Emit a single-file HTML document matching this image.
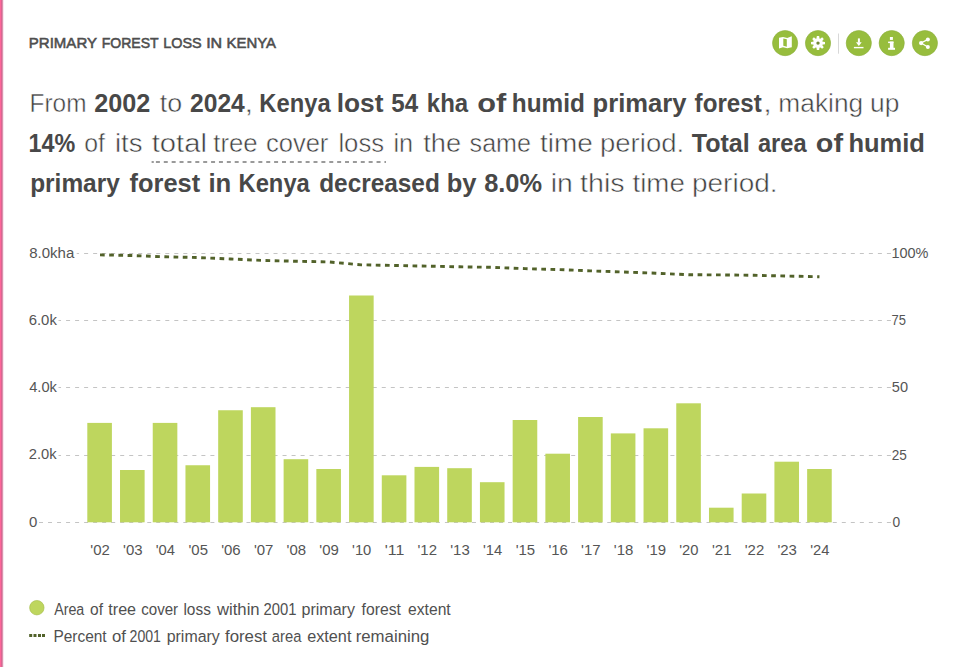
<!DOCTYPE html>
<html><head><meta charset="utf-8">
<style>
html,body{margin:0;padding:0;background:#fff;}
body{width:960px;height:667px;position:relative;overflow:hidden;font-family:"Liberation Sans",sans-serif;}
svg{position:absolute;left:0;top:0;}
text{font-family:"Liberation Sans",sans-serif;}
.t{fill:#4e4e4e;stroke:#4e4e4e;stroke-width:0.55px;} .pb{fill:#484848;} .pr{fill:#404040;stroke:#fff;stroke-width:0.5px;} .a{fill:#555;} .l{fill:#505050;}
</style></head><body>
<svg width="960" height="667" viewBox="0 0 960 667">
<rect x="0" y="0" width="1" height="667" fill="#fd6699"/><rect x="1" y="0" width="1" height="667" fill="#da6592"/><rect x="2" y="0" width="1" height="667" fill="#db92ad"/><rect x="3" y="0" width="0.6" height="667" fill="#f3d8e4"/>
<g stroke="#c4c4c4" stroke-width="1" stroke-dasharray="4 5.02">
<line x1="30" y1="253.5" x2="891" y2="253.5"/><line x1="30" y1="320.5" x2="891" y2="320.5"/><line x1="30" y1="387.5" x2="891" y2="387.5"/><line x1="30" y1="455.5" x2="891" y2="455.5"/><line x1="30" y1="522.5" x2="891" y2="522.5"/>
</g>
<g fill="#fff">
<rect x="28" y="244" width="48.7" height="18"/><rect x="28" y="311" width="30.5" height="18"/><rect x="28" y="378" width="30.5" height="18"/><rect x="28" y="445" width="30.5" height="18"/><rect x="28" y="513" width="10.5" height="18"/>
</g>
<path d="M151.6 162h2.2M155.90 162h4.00M163.78 162h4.00M171.66 162h4.00M179.54 162h4.00M187.42 162h4.00M195.30 162h4.00M203.18 162h4.00M211.06 162h4.00M218.94 162h4.00M226.82 162h4.00M234.70 162h4.00M242.58 162h4.00M250.46 162h4.00M258.34 162h4.00M266.22 162h4.00M274.10 162h4.00M281.98 162h4.00M289.86 162h4.00M297.74 162h4.00M305.62 162h4.00M313.50 162h4.00M321.38 162h4.00M329.26 162h4.00M337.14 162h4.00M345.02 162h4.00M352.90 162h4.00M360.78 162h4.00M368.66 162h4.00M376.54 162h4.00M384.42 162h1.58" stroke="#7a7a7a" stroke-width="1.5" fill="none"/>
<g fill="#bed65e"><rect x="87.30" y="422.90" width="24.6" height="99.40"/><rect x="120.02" y="470.00" width="24.6" height="52.30"/><rect x="152.74" y="422.90" width="24.6" height="99.40"/><rect x="185.46" y="465.25" width="24.6" height="57.05"/><rect x="218.18" y="410.25" width="24.6" height="112.05"/><rect x="250.90" y="407.20" width="24.6" height="115.10"/><rect x="283.62" y="459.20" width="24.6" height="63.10"/><rect x="316.34" y="469.00" width="24.6" height="53.30"/><rect x="349.06" y="295.50" width="24.6" height="226.80"/><rect x="381.78" y="475.30" width="24.6" height="47.00"/><rect x="414.50" y="466.90" width="24.6" height="55.40"/><rect x="447.22" y="468.20" width="24.6" height="54.10"/><rect x="479.94" y="482.20" width="24.6" height="40.10"/><rect x="512.66" y="420.00" width="24.6" height="102.30"/><rect x="545.38" y="453.70" width="24.6" height="68.60"/><rect x="578.10" y="417.00" width="24.6" height="105.30"/><rect x="610.82" y="433.40" width="24.6" height="88.90"/><rect x="643.54" y="428.30" width="24.6" height="94.00"/><rect x="676.26" y="403.30" width="24.6" height="119.00"/><rect x="708.98" y="507.70" width="24.6" height="14.60"/><rect x="741.70" y="493.50" width="24.6" height="28.80"/><rect x="774.42" y="461.70" width="24.6" height="60.60"/><rect x="807.14" y="469.00" width="24.6" height="53.30"/></g>
<polyline points="99.60,254.87 132.32,255.54 165.04,256.81 197.76,257.54 230.48,258.97 263.20,260.44 295.92,261.25 328.64,261.93 361.36,264.83 394.08,265.43 426.80,266.13 459.52,266.82 492.24,267.34 524.96,268.64 557.68,269.52 590.40,270.87 623.12,272.00 655.84,273.20 688.56,274.72 721.28,274.91 754.00,275.28 786.72,276.05 819.44,276.73" fill="none" stroke="#52622a" stroke-width="2.9" stroke-dasharray="4.7 4.5" stroke-dashoffset="-0.4"/>
<text class="t" transform="translate(28.83 47.90) scale(1.0024 1)" font-size="15.0">PRIMARY</text>
<text class="t" transform="translate(101.70 47.90) scale(0.9376 1)" font-size="15.0">FOREST</text>
<text class="t" transform="translate(163.17 47.90) scale(0.9629 1)" font-size="15.0">LOSS</text>
<text class="t" transform="translate(206.14 47.90) scale(1.0710 1)" font-size="15.0">IN</text>
<text class="t" transform="translate(226.53 47.90) scale(0.9951 1)" font-size="15.0">KENYA</text>
<text class="pr" transform="translate(29.60 111.60) scale(0.9375 1)" font-size="26">From</text>
<text class="pb" transform="translate(94.21 111.60) scale(0.9702 1)" font-weight="bold" font-size="26">2002</text>
<text class="pr" transform="translate(159.70 111.60) scale(1.0325 1)" font-size="26">to</text>
<text class="pb" transform="translate(190.03 111.60) scale(0.9477 1)" font-weight="bold" font-size="26">2024</text>
<text class="pr" transform="translate(244.14 111.60) scale(1.2615 1)" font-size="26">,</text>
<text class="pb" transform="translate(259.31 111.60) scale(0.9141 1)" font-weight="bold" font-size="26">Kenya</text>
<text class="pb" transform="translate(336.66 111.60) scale(1.0119 1)" font-weight="bold" font-size="26">lost</text>
<text class="pb" transform="translate(391.32 111.60) scale(0.9275 1)" font-weight="bold" font-size="26">54</text>
<text class="pb" transform="translate(426.80 111.60) scale(0.9229 1)" font-weight="bold" font-size="26">kha</text>
<text class="pb" transform="translate(477.34 111.60) scale(1.1830 1)" font-weight="bold" font-size="26">of</text>
<text class="pb" transform="translate(511.78 111.60) scale(0.9371 1)" font-weight="bold" font-size="26">humid</text>
<text class="pb" transform="translate(592.60 111.60) scale(0.9849 1)" font-weight="bold" font-size="26">primary</text>
<text class="pb" transform="translate(694.62 111.60) scale(0.9302 1)" font-weight="bold" font-size="26">forest</text>
<text class="pr" transform="translate(763.00 111.60) scale(1.2308 1)" font-size="26">,</text>
<text class="pr" transform="translate(778.36 111.60) scale(1.0120 1)" font-size="26">making</text>
<text class="pr" transform="translate(870.05 111.60) scale(1.0137 1)" font-size="26">up</text>
<text class="pb" transform="translate(28.54 151.60) scale(0.8992 1)" font-weight="bold" font-size="26">14%</text>
<text class="pr" transform="translate(84.22 151.60) scale(0.9542 1)" font-size="26">of</text>
<text class="pr" transform="translate(114.98 151.60) scale(1.0610 1)" font-size="26">its</text>
<text class="pr" transform="translate(151.70 151.60) scale(1.1238 1)" font-size="26">total</text>
<text class="pr" transform="translate(213.30 151.60) scale(0.9920 1)" font-size="26">tree</text>
<text class="pr" transform="translate(265.90 151.60) scale(0.9834 1)" font-size="26">cover</text>
<text class="pr" transform="translate(338.39 151.60) scale(0.9886 1)" font-size="26">loss</text>
<text class="pr" transform="translate(393.42 151.60) scale(0.9737 1)" font-size="26">in</text>
<text class="pr" transform="translate(423.30 151.60) scale(1.0459 1)" font-size="26">the</text>
<text class="pr" transform="translate(469.61 151.60) scale(0.9659 1)" font-size="26">same</text>
<text class="pr" transform="translate(540.00 151.60) scale(1.0756 1)" font-size="26">time</text>
<text class="pr" transform="translate(599.98 151.60) scale(1.0593 1)" font-size="26">period.</text>
<text class="pb" transform="translate(691.70 151.60) scale(0.9652 1)" font-weight="bold" font-size="26">Total</text>
<text class="pb" transform="translate(757.93 151.60) scale(0.9088 1)" font-weight="bold" font-size="26">area</text>
<text class="pb" transform="translate(815.80 151.60) scale(1.1080 1)" font-weight="bold" font-size="26">of</text>
<text class="pb" transform="translate(848.41 151.60) scale(0.9813 1)" font-weight="bold" font-size="26">humid</text>
<text class="pb" transform="translate(30.17 191.80) scale(0.9402 1)" font-weight="bold" font-size="26">primary</text>
<text class="pb" transform="translate(129.60 191.80) scale(0.9762 1)" font-weight="bold" font-size="26">forest</text>
<text class="pb" transform="translate(208.39 191.80) scale(0.9889 1)" font-weight="bold" font-size="26">in</text>
<text class="pb" transform="translate(238.51 191.80) scale(0.9141 1)" font-weight="bold" font-size="26">Kenya</text>
<text class="pb" transform="translate(319.24 191.80) scale(0.9377 1)" font-weight="bold" font-size="26">decreased</text>
<text class="pb" transform="translate(446.70 191.80) scale(0.9833 1)" font-weight="bold" font-size="26">by</text>
<text class="pb" transform="translate(484.21 191.80) scale(0.9762 1)" font-weight="bold" font-size="26">8.0%</text>
<text class="pr" transform="translate(550.72 191.80) scale(1.0932 1)" font-size="26">in</text>
<text class="pr" transform="translate(580.00 191.80) scale(1.1035 1)" font-size="26">this</text>
<text class="pr" transform="translate(632.50 191.80) scale(1.0663 1)" font-size="26">time</text>
<text class="pr" transform="translate(692.00 191.80) scale(1.0758 1)" font-size="26">period.</text>
<text class="a" transform="translate(29.23 257.70) scale(0.9748 1)" font-size="15.4">8.0kha</text>
<text class="a" transform="translate(28.70 324.95) scale(0.9676 1)" font-size="15.4">6.0k</text>
<text class="a" transform="translate(29.17 392.20) scale(0.9516 1)" font-size="15.4">4.0k</text>
<text class="a" transform="translate(28.71 459.45) scale(0.9571 1)" font-size="15.4">2.0k</text>
<text class="a" transform="translate(28.93 526.70) scale(0.9740 1)" font-size="15.4">0</text>
<text class="a" transform="translate(891.39 257.80) scale(0.9403 1)" font-size="15.4">100%</text>
<text class="a" transform="translate(891.49 325.05) scale(0.8427 1)" font-size="15.4">75</text>
<text class="a" transform="translate(891.84 392.30) scale(0.9468 1)" font-size="15.4">50</text>
<text class="a" transform="translate(891.66 459.55) scale(0.8838 1)" font-size="15.4">25</text>
<text class="a" transform="translate(892.47 526.80) scale(0.8961 1)" font-size="15.4">0</text>
<text class="a" transform="translate(90.30 555.20) scale(1.0114 1)" font-size="14.8">'02</text>
<text class="a" transform="translate(123.02 555.20) scale(1.0114 1)" font-size="14.8">'03</text>
<text class="a" transform="translate(155.75 555.20) scale(0.9986 1)" font-size="14.8">'04</text>
<text class="a" transform="translate(188.46 555.20) scale(1.0114 1)" font-size="14.8">'05</text>
<text class="a" transform="translate(221.18 555.20) scale(1.0114 1)" font-size="14.8">'06</text>
<text class="a" transform="translate(253.90 555.20) scale(1.0114 1)" font-size="14.8">'07</text>
<text class="a" transform="translate(286.62 555.20) scale(1.0114 1)" font-size="14.8">'08</text>
<text class="a" transform="translate(319.34 555.20) scale(1.0114 1)" font-size="14.8">'09</text>
<text class="a" transform="translate(352.07 555.20) scale(0.9986 1)" font-size="14.8">'10</text>
<text class="a" transform="translate(384.73 555.20) scale(1.0772 1)" font-size="14.8">'11</text>
<text class="a" transform="translate(417.50 555.20) scale(1.0114 1)" font-size="14.8">'12</text>
<text class="a" transform="translate(450.22 555.20) scale(1.0114 1)" font-size="14.8">'13</text>
<text class="a" transform="translate(482.95 555.20) scale(0.9986 1)" font-size="14.8">'14</text>
<text class="a" transform="translate(515.66 555.20) scale(1.0114 1)" font-size="14.8">'15</text>
<text class="a" transform="translate(548.38 555.20) scale(1.0114 1)" font-size="14.8">'16</text>
<text class="a" transform="translate(581.10 555.20) scale(1.0114 1)" font-size="14.8">'17</text>
<text class="a" transform="translate(613.82 555.20) scale(1.0114 1)" font-size="14.8">'18</text>
<text class="a" transform="translate(646.54 555.20) scale(1.0114 1)" font-size="14.8">'19</text>
<text class="a" transform="translate(679.27 555.20) scale(0.9986 1)" font-size="14.8">'20</text>
<text class="a" transform="translate(711.98 555.20) scale(1.0114 1)" font-size="14.8">'21</text>
<text class="a" transform="translate(744.70 555.20) scale(1.0114 1)" font-size="14.8">'22</text>
<text class="a" transform="translate(777.42 555.20) scale(1.0114 1)" font-size="14.8">'23</text>
<text class="a" transform="translate(810.15 555.20) scale(0.9986 1)" font-size="14.8">'24</text>
<text class="l" transform="translate(54.20 614.90) scale(0.9137 1)" font-size="15.6">Area</text>
<text class="l" transform="translate(90.12 614.90) scale(0.9940 1)" font-size="15.6">of</text>
<text class="l" transform="translate(108.30 614.90) scale(1.0324 1)" font-size="15.6">tree</text>
<text class="l" transform="translate(141.23 614.90) scale(0.9685 1)" font-size="15.6">cover</text>
<text class="l" transform="translate(183.44 614.90) scale(0.9894 1)" font-size="15.6">loss</text>
<text class="l" transform="translate(216.96 614.90) scale(1.0713 1)" font-size="15.6">within</text>
<text class="l" transform="translate(263.50 614.90) scale(0.9508 1)" font-size="15.6">2001</text>
<text class="l" transform="translate(301.50 614.90) scale(1.0289 1)" font-size="15.6">primary</text>
<text class="l" transform="translate(361.60 614.90) scale(1.0085 1)" font-size="15.6">forest</text>
<text class="l" transform="translate(408.11 614.90) scale(1.0033 1)" font-size="15.6">extent</text>
<text class="l" transform="translate(53.39 642.20) scale(0.9906 1)" font-size="15.6">Percent</text>
<text class="l" transform="translate(111.98 642.20) scale(1.0735 1)" font-size="15.6">of</text>
<text class="l" transform="translate(129.54 642.20) scale(0.9058 1)" font-size="15.6">2001</text>
<text class="l" transform="translate(166.70 642.20) scale(1.0210 1)" font-size="15.6">primary</text>
<text class="l" transform="translate(225.00 642.20) scale(1.0776 1)" font-size="15.6">forest</text>
<text class="l" transform="translate(271.84 642.20) scale(0.9470 1)" font-size="15.6">area</text>
<text class="l" transform="translate(307.19 642.20) scale(1.0413 1)" font-size="15.6">extent</text>
<text class="l" transform="translate(355.65 642.20) scale(1.0773 1)" font-size="15.6">remaining</text>
<g fill="#97bd3d" stroke="#8cae3a" stroke-width="0.6">
<circle cx="785.1" cy="43.1" r="12.6"/><circle cx="818" cy="43.1" r="12.6"/><circle cx="858.8" cy="43.1" r="12.6"/><circle cx="891.7" cy="43.1" r="12.6"/><circle cx="924.9" cy="43.1" r="12.6"/>
</g>
<line x1="838.5" y1="33.5" x2="838.5" y2="53.7" stroke="#d8d8d8" stroke-width="1"/>
<g fill="#fff">
<path d="M779 37.8 L783 36.9 L787.2 38 L791.8 36.3 L791.8 47.2 L787.2 48.2 L783 47.2 L779 48.5 Z"/>
</g>
<path d="M783.3 38.4 L786.8 39.3 L786.8 46.7 L783.3 45.8 Z" fill="#97bd3d"/>
<g transform="translate(818 43.1)" fill="#fff">
<circle r="4.7"/>
<path d="M-1.15 -7 L1.15 -7 L1.7 -3.5 L1.7 3.5 L1.15 7 L-1.15 7 L-1.7 3.5 L-1.7 -3.5 Z"/>
<path d="M-1.15 -7 L1.15 -7 L1.7 -3.5 L1.7 3.5 L1.15 7 L-1.15 7 L-1.7 3.5 L-1.7 -3.5 Z" transform="rotate(45)"/>
<path d="M-1.15 -7 L1.15 -7 L1.7 -3.5 L1.7 3.5 L1.15 7 L-1.15 7 L-1.7 3.5 L-1.7 -3.5 Z" transform="rotate(90)"/>
<path d="M-1.15 -7 L1.15 -7 L1.7 -3.5 L1.7 3.5 L1.15 7 L-1.15 7 L-1.7 3.5 L-1.7 -3.5 Z" transform="rotate(135)"/>
<circle r="1.7" fill="#738a38"/>
</g>
<g fill="#fff">
<rect x="857.9" y="38.4" width="2" height="4.2"/>
<path d="M856 42.2 L861.7 42.2 L858.85 45.9 Z"/>
<rect x="853.9" y="46.9" width="9.6" height="1.4"/>
</g>
<g fill="#fff">
<rect x="889.9" y="37" width="3" height="2.9"/>
<rect x="888.1" y="41.6" width="5.4" height="1.5"/>
<rect x="889.9" y="41.6" width="3.6" height="6.6"/>
<rect x="888.1" y="47.8" width="6.9" height="2"/>
</g>
<g fill="#fff" stroke="#fff">
<line x1="921.1" y1="43.05" x2="927.85" y2="39.4" stroke-width="1.3"/>
<line x1="921.1" y1="43.05" x2="927.85" y2="47" stroke-width="1.3"/>
<circle cx="927.85" cy="39.4" r="2" stroke="none"/>
<circle cx="921.1" cy="43.05" r="2.1" stroke="none"/>
<circle cx="927.85" cy="47" r="2" stroke="none"/>
</g>
<circle cx="36.85" cy="607.7" r="7.2" fill="#bed65e" stroke="#a9c050" stroke-width="0.7"/>
<g fill="#52622a"><rect x="29.2" y="634" width="3" height="3"/><rect x="33.5" y="634" width="3" height="3"/><rect x="38" y="634" width="3" height="3"/><rect x="42" y="634" width="3" height="3"/></g>
</svg>
</body></html>
